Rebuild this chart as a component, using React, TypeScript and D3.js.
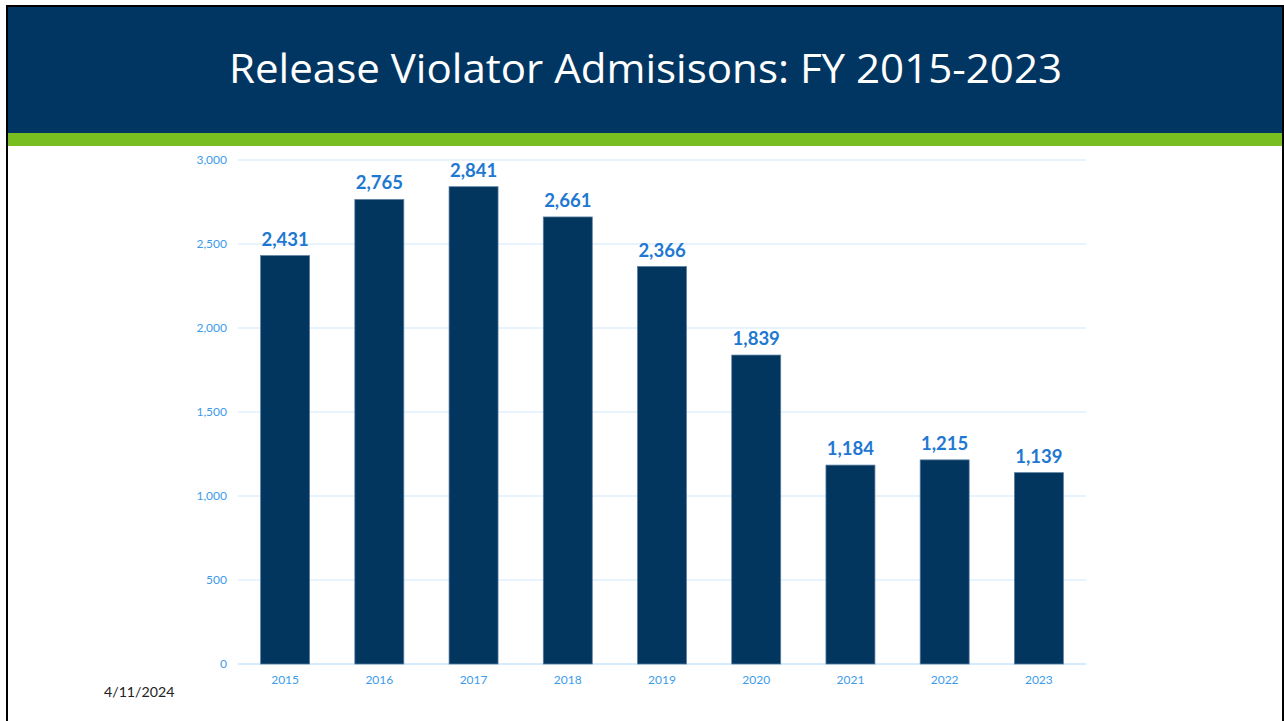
import React from "react";
import * as d3 from "d3";

const years = ["2015", "2016", "2017", "2018", "2019", "2020", "2021", "2022", "2023"];
const admissions = [2431, 2765, 2841, 2661, 2366, 1839, 1184, 1215, 1139];
const yTicks = [0, 500, 1000, 1500, 2000, 2500, 3000];
const title = "Release Violator Admisisons: FY 2015-2023";
const dateText = "4/11/2024";

const W = 1284;
const H = 721;
const FONT = "Lato, 'Open Sans', 'Noto Sans', sans-serif";

export default function App() {
  const x = d3.scaleBand<string>().domain(years).range([238, 1086]).paddingInner(0.48).paddingOuter(0.24);
  const y = d3.scaleLinear().domain([0, 3000]).range([664, 160]);
  const fmt = d3.format(",");

  return (
    <svg width={W} height={H} style={{ position: "absolute", left: 0, top: 0, display: "block" }}>
      <rect x={0} y={0} width={W} height={H} fill="#ffffff" />
      {/* header */}
      <rect x={7} y={6} width={1276} height={128} fill="#023662" />
      <rect x={7} y={133} width={1276} height={13} fill="#78BE20" />
      {/* frame */}
      <line x1={7} y1={5} x2={7} y2={H} stroke="#000" strokeWidth={2} />
      <line x1={1283} y1={5} x2={1283} y2={H} stroke="#000" strokeWidth={2} />
      <line x1={6} y1={6} x2={1284} y2={6} stroke="#000" strokeWidth={2} />
      <text
        x={645.5}
        y={83}
        textAnchor="middle"
        fill="#ffffff"
        fontFamily="'Open Sans', 'Noto Sans', sans-serif"
        fontSize={41}
        fontWeight={400}
        textLength={833}
        lengthAdjust="spacingAndGlyphs"
      >
        {title}
      </text>

      {/* gridlines */}
      {yTicks.map((t) => (
        <g key={t}>
          <line x1={238} x2={1086} y1={y(t)} y2={y(t)} stroke={t === 0 ? "#C9E4FB" : "#CFE8FC"} strokeWidth={t === 0 ? 1.5 : 1} />
          <text x={227} y={y(t) + 4} textAnchor="end" fill="#3C9BE9" fontFamily={FONT} fontSize={12}>
            {fmt(t)}
          </text>
        </g>
      ))}

      {/* bars */}
      {years.map((yr, i) => (
        <g key={yr}>
          <rect
            x={x(yr)!}
            y={y(admissions[i])}
            width={x.bandwidth()}
            height={y(0) - y(admissions[i])}
            fill="#02365F"
            stroke="#5B7FA3"
            strokeWidth={0.75}
          />
          <text
            x={x(yr)! + x.bandwidth() / 2}
            y={y(admissions[i]) - 10}
            textAnchor="middle"
            fill="#1E78D2"
            fontFamily={FONT}
            fontWeight={700}
            fontSize={18.5}
          >
            {fmt(admissions[i])}
          </text>
          <text
            x={x(yr)! + x.bandwidth() / 2}
            y={684}
            textAnchor="middle"
            fill="#3C9BE9"
            fontFamily={FONT}
            fontSize={12}
          >
            {yr}
          </text>
        </g>
      ))}

      <text x={104} y={697} fill="#222" fontFamily={FONT} fontSize={14.2}>
        {dateText}
      </text>
    </svg>
  );
}
